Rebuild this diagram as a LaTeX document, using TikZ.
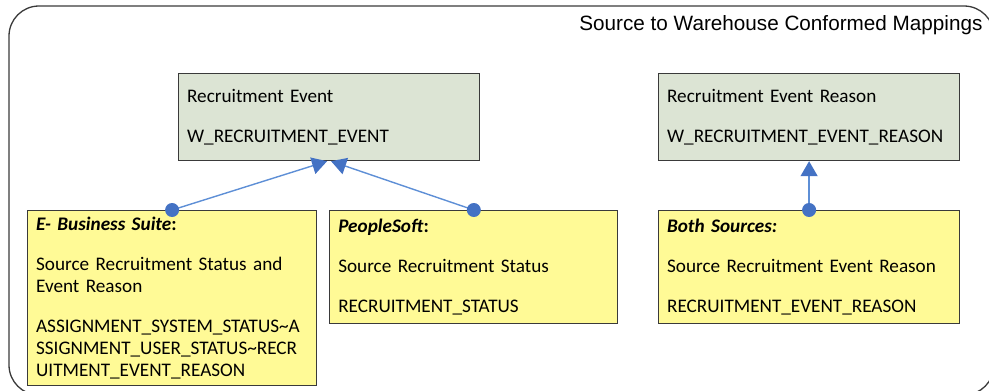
\documentclass[tikz,border=0pt]{standalone}
\usepackage{fontspec}
\setmainfont{Carlito}
\newfontfamily\titlefont{Liberation Sans}
\usetikzlibrary{arrows.meta,positioning}
\definecolor{GB}{HTML}{DCE4D4}
\definecolor{YB}{HTML}{FFFA96}
\definecolor{BL}{HTML}{4472C4}
\definecolor{BLL}{HTML}{5E8FD6}
\definecolor{FR}{HTML}{3A3A3A}

\begin{document}
\begin{tikzpicture}[x=1pt,y=-1pt,
    tbl/.style={draw=FR, line width=1.2pt, fill=GB,
                minimum width=301pt, minimum height=87pt,
                text width=284pt, inner xsep=8pt, align=left,
                anchor=north west, font=\fontsize{19.2}{22}\selectfont},
    src/.style={tbl, fill=YB, minimum height=113pt},
    link/.style={draw=BLL, line width=1.4pt,
                 -{Triangle[width=17pt,length=15pt,color=BL]}}]
  \useasboundingbox (0,0) rectangle (989,391);
  \clip (0,0) rectangle (989,391);
  % outer frame
  \draw[FR, line width=1.3pt, rounded corners=30pt] (9,6) rectangle (994,395);
  \node[anchor=base east, font=\titlefont\fontsize{20.7}{24}\selectfont]
    (ttl) at (986,30) {Source to Warehouse Conformed Mappings};

  % warehouse tables
  \node[tbl] (evt) at (178,73) {Recruitment Event\\[18pt]W\_RECRUITMENT\_EVENT};
  \node[tbl] (rsn) at (658,73) {Recruitment Event Reason\\[18pt]W\_RECRUITMENT\_EVENT\_REASON};

  % sources
  \node[src, minimum width=289pt, text width=272pt, minimum height=175pt] (ebs) at (27,210) {
    \textbf{\textit{E- Business Suite}:}\\[18pt]
    Source Recruitment Status and\\
    Event Reason\\[18pt]
    ASSIGNMENT\_SYSTEM\_STATUS\textasciitilde A\\
    SSIGNMENT\_USER\_STATUS\textasciitilde RECR\\
    UITMENT\_EVENT\_REASON};
  \node[src, minimum width=288pt, text width=271pt, right=12pt of ebs.north east, anchor=north west] (ps) {
    \textbf{\textit{PeopleSoft}:}\\[18pt]
    Source Recruitment Status\\[18pt]
    RECRUITMENT\_STATUS};
  \node[src] (both) at (658,210) {
    \textbf{\textit{Both Sources:}}\\[18pt]
    Source Recruitment Event Reason\\[18pt]
    RECRUITMENT\_EVENT\_REASON};

  % mappings
  \draw[link] (ebs.north) -- ([xshift=-2pt]evt.south);
  \draw[link] (ps.north) -- ([xshift=2pt]evt.south);
  \draw[link] (both.north) -- (rsn.south);
  \foreach \n in {ebs,ps,both}
    \fill[BL] (\n.north) circle (7pt);
\end{tikzpicture}
\end{document}
